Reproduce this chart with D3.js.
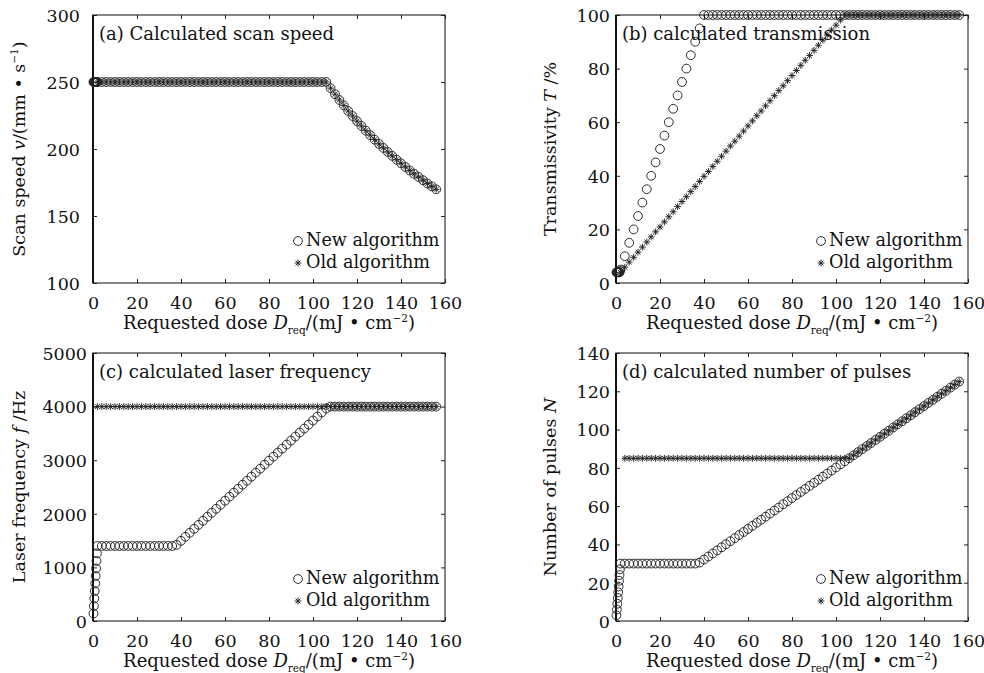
<!DOCTYPE html>
<html>
<head>
<meta charset="utf-8">
<script src="https://cdn.jsdelivr.net/npm/d3@7"></script>
<style>
  body { margin: 0; background: #fff; }
  text { font-family: "DejaVu Serif", serif; fill: #111; }
</style>
</head>
<body>
<div id="vis"></div>
<script>
// ---------------------------------------------------------------
// data (dose in mJ/cm^2)
// ---------------------------------------------------------------
const DOSE_NEW = [0.2, 0.4, 0.6, 0.8, 1.0, 1.2, 1.4, 1.6, 1.8, 2.0,
  4, 6, 8, 10, 12, 14, 16, 18, 20, 22, 24, 26, 28, 30, 32, 34, 36, 38, 40,
  42, 44, 46, 48, 50, 52, 54, 56, 58, 60, 62, 64, 66, 68, 70, 72, 74, 76, 78, 80,
  82, 84, 86, 88, 90, 92, 94, 96, 98, 100, 102, 104, 106, 108, 110, 112, 114, 116, 118, 120,
  122, 124, 126, 128, 130, 132, 134, 136, 138, 140, 142, 144, 146, 148, 150, 152, 154, 156];

const DOSE_OLD = [2, 4, 6, 8, 10, 12, 14, 16, 18, 20, 22, 24, 26, 28, 30, 32, 34, 36, 38, 40,
  42, 44, 46, 48, 50, 52, 54, 56, 58, 60, 62, 64, 66, 68, 70, 72, 74, 76, 78, 80,
  82, 84, 86, 88, 90, 92, 94, 96, 98, 100, 102, 104, 106, 108, 110, 112, 114, 116, 118, 120,
  122, 124, 126, 128, 130, 132, 134, 136, 138, 140, 142, 144, 146, 148, 150, 152, 154, 156];

// (a) scan speed, mm/s
const SPEED_NEW = [250, 250, 250, 250, 250, 250, 250, 250, 250, 250,
  250, 250, 250, 250, 250, 250, 250, 250, 250, 250,
  250, 250, 250, 250, 250, 250, 250, 250, 250, 250,
  250, 250, 250, 250, 250, 250, 250, 250, 250, 250,
  250, 250, 250, 250, 250, 250, 250, 250, 250, 250,
  250, 250, 250, 250, 250, 250, 250, 250, 250, 250,
  250, 250,
  245.4, 240.9, 236.6, 232.5, 228.4, 224.6, 220.8, 217.2, 213.7, 210.3,
  207.0, 203.8, 200.8, 197.8, 194.9, 192.0, 189.3, 186.6, 184.0, 181.5,
  179.1, 176.7, 174.3, 172.1, 169.9];
const SPEED_OLD = [250, 250, 250, 250, 250, 250, 250, 250, 250, 250,
  250, 250, 250, 250, 250, 250, 250, 250, 250, 250,
  250, 250, 250, 250, 250, 250, 250, 250, 250, 250,
  250, 250, 250, 250, 250, 250, 250, 250, 250, 250,
  250, 250, 250, 250, 250, 250, 250, 250, 250, 250,
  250, 250, 250,
  245.4, 240.9, 236.6, 232.5, 228.4, 224.6, 220.8, 217.2, 213.7, 210.3,
  207.0, 203.8, 200.8, 197.8, 194.9, 192.0, 189.3, 186.6, 184.0, 181.5,
  179.1, 176.7, 174.3, 172.1, 169.9];

// (b) transmissivity, %
const TRANS_NEW = [4, 4, 4, 4, 4, 4, 4, 4, 4.5, 5,
  10, 15, 20, 25, 30, 35, 40, 45, 50, 55, 60, 65, 70, 75, 80, 85, 90, 95,
  100, 100, 100, 100, 100, 100, 100, 100, 100, 100,
  100, 100, 100, 100, 100, 100, 100, 100, 100, 100,
  100, 100, 100, 100, 100, 100, 100, 100, 100, 100,
  100, 100, 100, 100, 100, 100, 100, 100, 100, 100,
  100, 100, 100, 100, 100, 100, 100, 100, 100, 100,
  100, 100, 100, 100, 100, 100, 100, 100, 100];
const TRANS_OLD = [4.0, 5.9, 7.8, 9.6, 11.5, 13.4, 15.3, 17.2, 19.1, 20.9,
  22.8, 24.7, 26.6, 28.5, 30.4, 32.2, 34.1, 36.0, 37.9, 39.8,
  41.6, 43.5, 45.4, 47.3, 49.2, 51.1, 52.9, 54.8, 56.7, 58.6,
  60.5, 62.4, 64.2, 66.1, 68.0, 69.9, 71.8, 73.6, 75.5, 77.4,
  79.3, 81.2, 83.1, 84.9, 86.8, 88.7, 90.6, 92.5, 94.4, 96.2,
  98.1, 100,
  100, 100, 100, 100, 100, 100, 100, 100, 100, 100,
  100, 100, 100, 100, 100, 100, 100, 100, 100, 100,
  100, 100, 100, 100, 100, 100];

// (c) laser frequency, Hz
const FREQ_NEW = [140, 280, 420, 560, 700, 840, 980, 1120, 1260, 1400,
  1400, 1400, 1400, 1400, 1400, 1400, 1400, 1400, 1400, 1400,
  1400, 1400, 1400, 1400, 1400, 1400, 1400,
  1421, 1496, 1571, 1646, 1720, 1795, 1870, 1945, 2020, 2094,
  2169, 2244, 2319, 2394, 2468, 2543, 2618, 2693, 2768, 2842,
  2917, 2992, 3067, 3142, 3216, 3291, 3366, 3441, 3516, 3590,
  3665, 3740, 3815, 3890, 3964,
  4000, 4000, 4000, 4000, 4000, 4000, 4000, 4000, 4000, 4000,
  4000, 4000, 4000, 4000, 4000, 4000, 4000, 4000, 4000, 4000,
  4000, 4000, 4000, 4000, 4000];
const FREQ_OLD = [4000, 4000, 4000, 4000, 4000, 4000, 4000, 4000, 4000, 4000,
  4000, 4000, 4000, 4000, 4000, 4000, 4000, 4000, 4000, 4000,
  4000, 4000, 4000, 4000, 4000, 4000, 4000, 4000, 4000, 4000,
  4000, 4000, 4000, 4000, 4000, 4000, 4000, 4000, 4000, 4000,
  4000, 4000, 4000, 4000, 4000, 4000, 4000, 4000, 4000, 4000,
  4000, 4000, 4000, 4000, 4000, 4000, 4000, 4000, 4000, 4000,
  4000, 4000, 4000, 4000, 4000, 4000, 4000, 4000, 4000, 4000,
  4000, 4000, 4000, 4000, 4000, 4000, 4000, 4000];

// (d) number of pulses
const PULSES_NEW = [3, 6, 9, 12, 15, 18, 21, 24, 27, 30,
  30, 30, 30, 30, 30, 30, 30, 30, 30, 30,
  30, 30, 30, 30, 30, 30, 30,
  30.5, 32.1, 33.7, 35.3, 36.9, 38.5, 40.1, 41.7, 43.3, 44.9,
  46.5, 48.1, 49.7, 51.3, 52.9, 54.5, 56.1, 57.7, 59.3, 61.0,
  62.6, 64.2, 65.8, 67.4, 69.0, 70.6, 72.2, 73.8, 75.4, 77.0,
  78.6, 80.2, 81.8, 83.4, 85.0, 86.6, 88.2, 89.8, 91.4, 93.0,
  94.6, 96.2, 97.8, 99.4, 101.1, 102.7, 104.3, 105.9, 107.5, 109.1,
  110.7, 112.3, 113.9, 115.5, 117.1, 118.7, 120.3, 121.9, 123.5, 125.1];
const PULSES_OLD = [null,
  85, 85, 85, 85, 85, 85, 85, 85, 85, 85,
  85, 85, 85, 85, 85, 85, 85, 85, 85, 85,
  85, 85, 85, 85, 85, 85, 85, 85, 85, 85,
  85, 85, 85, 85, 85, 85, 85, 85, 85, 85,
  85, 85, 85, 85, 85, 85, 85, 85, 85, 85,
  85, 85,
  86.6, 88.2, 89.8, 91.4, 93.0, 94.6, 96.2, 97.8, 99.4, 101.1,
  102.7, 104.3, 105.9, 107.5, 109.1, 110.7, 112.3, 113.9, 115.5, 117.1,
  118.7, 120.3, 121.9, 123.5, 125.1];

const X_TICKS = [0, 20, 40, 60, 80, 100, 120, 140, 160];
const LEGEND = ["New algorithm", "Old algorithm"];

// ---------------------------------------------------------------
const FRAME_WIDTH = 984;
const FRAME_HEIGHT = 673;
const PLOT_W = 352;
const PLOT_H = 268;

const SVG = d3.select("#vis")
  .append("svg")
    .attr("width", FRAME_WIDTH)
    .attr("height", FRAME_HEIGHT);

// 8-armed star marker (plus + cross)
const STAR = {
  draw(ctx, size) {
    const r = Math.sqrt(size) / 2;
    const d = r * 0.72;
    ctx.moveTo(-r, 0); ctx.lineTo(r, 0);
    ctx.moveTo(0, -r); ctx.lineTo(0, r);
    ctx.moveTo(-d, -d); ctx.lineTo(d, d);
    ctx.moveTo(-d, d); ctx.lineTo(d, -d);
  }
};
const starPath = d3.symbol().type(STAR).size(46)();

const PANELS = [
  { left: 93, top: 15, yDomain: [100, 300], yTicks: [100, 150, 200, 250, 300],
    newY: SPEED_NEW, oldY: SPEED_OLD, yPad: 13, yTitleX: 25,
    title: "(a) Calculated scan speed",
    yTitle: [{t: "Scan speed "}, {t: "v", i: true}, {t: "/(mm • s"}, {t: "−1", sup: true}, {t: ")"}] },
  { left: 616, top: 15, yDomain: [0, 100], yTicks: [0, 20, 40, 60, 80, 100],
    newY: TRANS_NEW, oldY: TRANS_OLD, yPad: 6, yTitleX: 556,
    title: "(b) calculated transmission",
    yTitle: [{t: "Transmissivity "}, {t: "T", i: true}, {t: " /%"}] },
  { left: 93, top: 353, yDomain: [0, 5000], yTicks: [0, 1000, 2000, 3000, 4000, 5000],
    newY: FREQ_NEW, oldY: FREQ_OLD, yPad: 6, yTitleX: 25,
    title: "(c) calculated laser frequency",
    yTitle: [{t: "Laser frequency "}, {t: "f", i: true}, {t: " /Hz"}] },
  { left: 616, top: 353, yDomain: [0, 140], yTicks: [0, 20, 40, 60, 80, 100, 120, 140],
    newY: PULSES_NEW, oldY: PULSES_OLD, yPad: 6, yTitleX: 556,
    title: "(d) calculated number of pulses",
    yTitle: [{t: "Number of pulses "}, {t: "N", i: true}] }
];

function addParts(textSel, parts) {
  parts.forEach((p) => {
    const ts = textSel.append("tspan").text(p.t);
    if (p.i) ts.attr("font-style", "italic");
    if (p.sup) ts.attr("font-size", 10.5).attr("dy", -7);
    if (p.sub) ts.attr("font-size", 10.5).attr("dy", 5);
    if (p.back) ts.attr("dy", p.back);
  });
}

function build_panel(P) {
  const X_SCALE = d3.scaleLinear().domain([0, 160]).range([0, PLOT_W]);
  const Y_SCALE = d3.scaleLinear().domain(P.yDomain).range([PLOT_H, 0]);

  const G = SVG.append("g").attr("transform", `translate(${P.left},${P.top})`);

  // axes with inward ticks on all four sides
  G.append("g").attr("transform", `translate(0,${PLOT_H})`)
    .call(d3.axisBottom(X_SCALE).tickValues(X_TICKS).tickSize(-4).tickPadding(13.5)
      .tickFormat(d3.format("d")));
  const left = G.append("g")
    .call(d3.axisLeft(Y_SCALE).tickValues(P.yTicks).tickSize(-4).tickPadding(P.yPad)
      .tickFormat(d3.format("d")));
  G.append("g")
    .call(d3.axisTop(X_SCALE).tickValues(X_TICKS).tickSize(-4).tickFormat(""));
  G.append("g").attr("transform", `translate(${PLOT_W},0)`)
    .call(d3.axisRight(Y_SCALE).tickValues(P.yTicks).tickSize(-4).tickFormat(""));

  G.selectAll(".domain").remove();
  G.selectAll(".tick line").attr("stroke", "#222").attr("stroke-width", 1);
  G.selectAll(".tick text")
    .attr("font-family", "DejaVu Serif, serif")
    .attr("font-size", 17.5)
    .attr("fill", "#111");
  left.selectAll(".tick text").attr("dy", "0.36em");

  // frame
  G.append("rect")
    .attr("width", PLOT_W).attr("height", PLOT_H)
    .attr("fill", "none").attr("stroke", "#222").attr("stroke-width", 1.1);
  G.append("line")
    .attr("x1", 0).attr("x2", 0).attr("y1", 0).attr("y2", PLOT_H)
    .attr("stroke", "#111").attr("stroke-width", 2);

  // new algorithm: open circles
  G.append("g").selectAll("circle")
    .data(DOSE_NEW.map((d, i) => ({ x: d, y: P.newY[i] })))
    .enter()
    .append("circle")
      .attr("cx", (d) => X_SCALE(d.x))
      .attr("cy", (d) => Y_SCALE(d.y))
      .attr("r", 4.4)
      .attr("fill", "none")
      .attr("stroke", "#222")
      .attr("stroke-width", 0.95);

  // old algorithm: stars
  G.append("g").selectAll("path")
    .data(DOSE_OLD.map((d, i) => ({ x: d, y: P.oldY[i] })).filter((d) => d.y !== null))
    .enter()
    .append("path")
      .attr("d", starPath)
      .attr("transform", (d) => `translate(${X_SCALE(d.x)},${Y_SCALE(d.y)})`)
      .attr("fill", "none")
      .attr("stroke", "#222")
      .attr("stroke-width", 0.95);

  // panel title
  G.append("text")
    .attr("x", 6).attr("y", 25)
    .attr("font-size", 18)
    .text(P.title);

  // legend
  G.append("circle")
    .attr("cx", 205).attr("cy", PLOT_H - 42)
    .attr("r", 4.4).attr("fill", "none").attr("stroke", "#222").attr("stroke-width", 0.95);
  G.append("path")
    .attr("d", starPath)
    .attr("transform", `translate(205,${PLOT_H - 20})`)
    .attr("fill", "none").attr("stroke", "#222").attr("stroke-width", 0.95);
  G.append("text").attr("x", 213).attr("y", PLOT_H - 37).attr("font-size", 17.6).text(LEGEND[0]);
  G.append("text").attr("x", 213).attr("y", PLOT_H - 15).attr("font-size", 17.6).text(LEGEND[1]);

  // x title
  const xt = G.append("text")
    .attr("x", PLOT_W / 2).attr("y", PLOT_H + 46)
    .attr("text-anchor", "middle")
    .attr("font-size", 18);
  addParts(xt, [
    {t: "Requested dose "}, {t: "D", i: true}, {t: "req", sub: true},
    {t: "/(mJ • cm", back: -5}, {t: "−2", sup: true}, {t: ")", back: 7}
  ]);

  // y title
  const yt = SVG.append("text")
    .attr("transform", `translate(${P.yTitleX},${P.top + PLOT_H / 2}) rotate(-90)`)
    .attr("text-anchor", "middle")
    .attr("font-size", 17.5);
  addParts(yt, P.yTitle.map((p, i, arr) =>
    (i > 0 && arr[i - 1].sup) ? Object.assign({}, p, {back: 7}) : p));
}

PANELS.forEach(build_panel);
</script>
</body>
</html>
